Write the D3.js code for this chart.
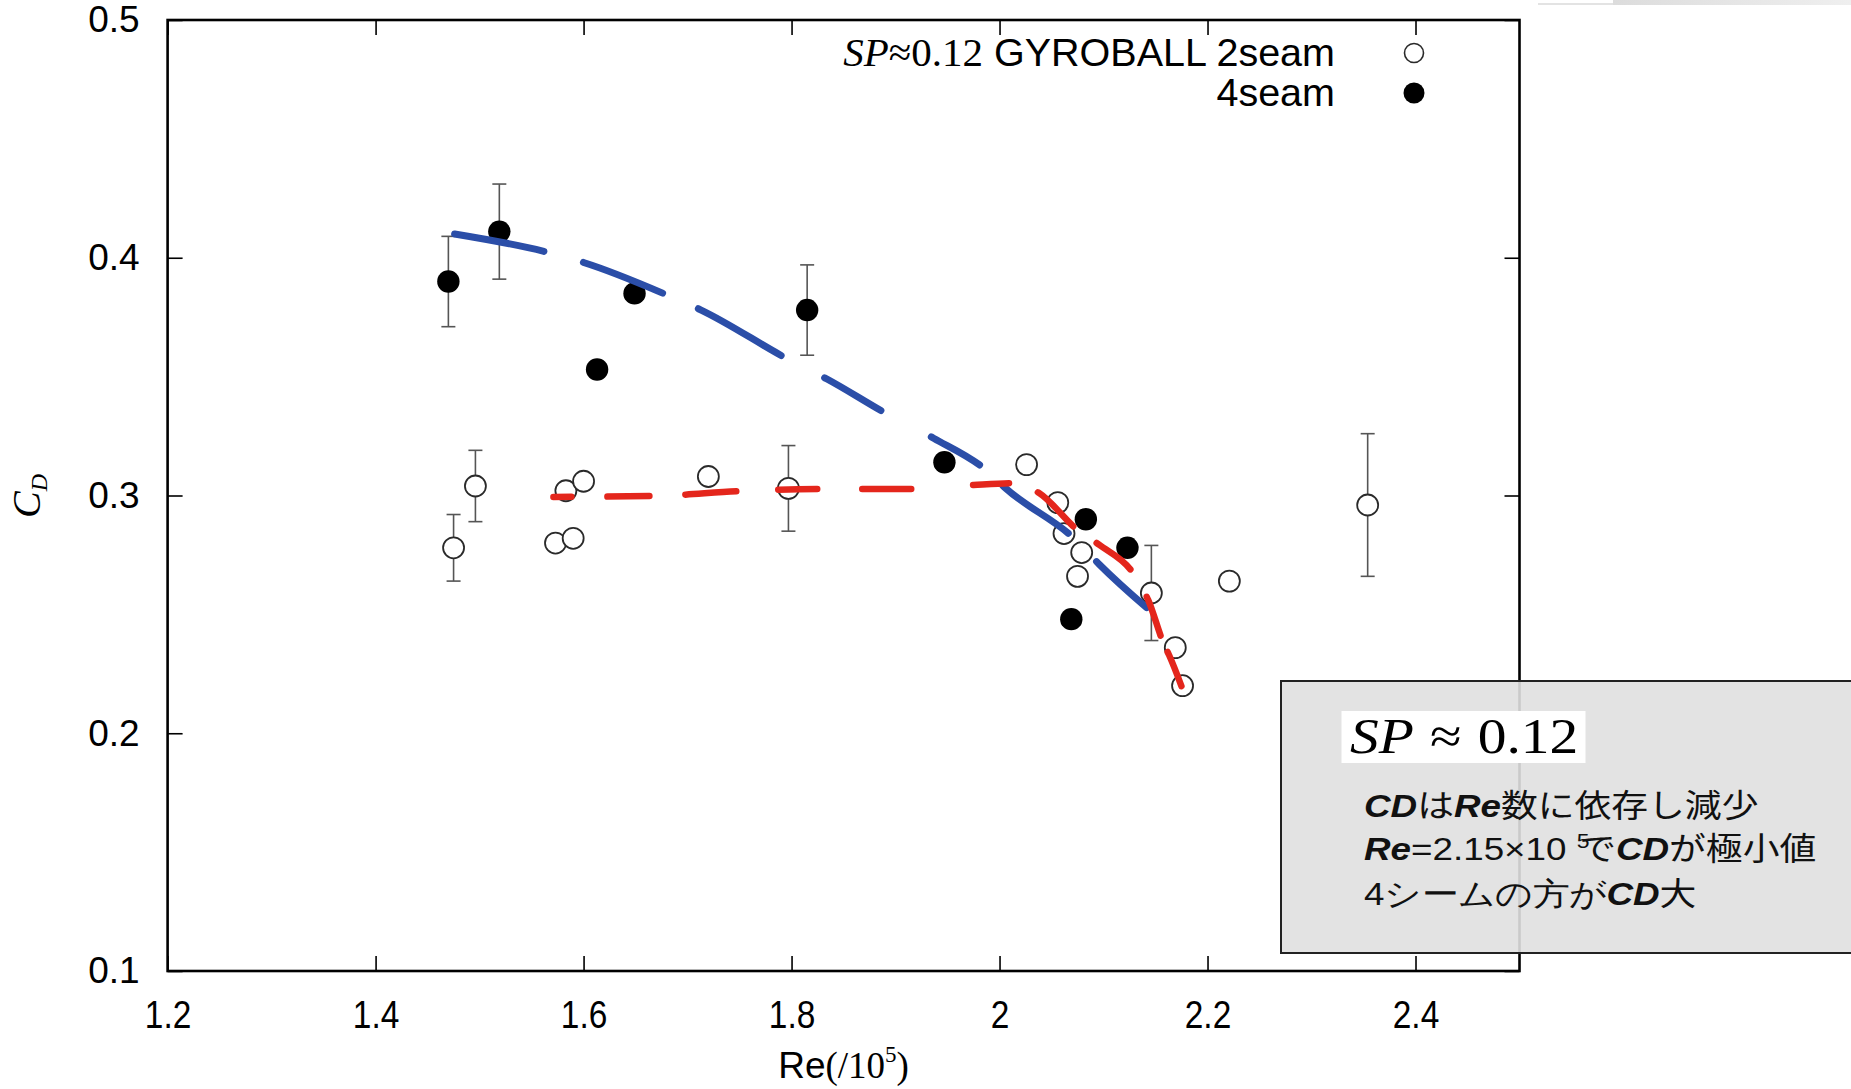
<!DOCTYPE html>
<html><head><meta charset="utf-8">
<script src="https://cdn.jsdelivr.net/npm/d3@7"></script>
<style>html,body{margin:0;padding:0;background:#fff;} svg{display:block;}</style>
</head><body>
<svg id="chart" width="1851" height="1089"></svg>
<script>
// Drag coefficient C_D versus Reynolds number for a gyroball at SP ≈ 0.12

const seriesNames = ["2seam", "4seam"];
const legendPrefixItalic = "SP";
const legendPrefix = "≈0.12";
const legendTitle = " GYROBALL ";

// 2-seam orientation (open circles); err = half-length of the error bar, 0 = none
const twoSeamRe  = [1.475, 1.496, 1.573, 1.590, 1.583, 1.600, 1.720, 1.797, 2.026, 2.056, 2.062, 2.079, 2.075, 2.146, 2.169, 2.176, 2.221, 2.354];
const twoSeamCd  = [0.278, 0.304, 0.280, 0.282, 0.302, 0.306, 0.308, 0.303, 0.313, 0.297, 0.284, 0.276, 0.266, 0.259, 0.236, 0.220, 0.264, 0.296];
const twoSeamErr = [0.014, 0.015, 0, 0, 0, 0, 0, 0.018, 0, 0, 0, 0, 0, 0.020, 0, 0, 0, 0.030];

// 4-seam orientation (filled circles)
const fourSeamRe  = [1.470, 1.519, 1.649, 1.613, 1.815, 1.947, 2.083, 2.123, 2.069];
const fourSeamCd  = [0.390, 0.411, 0.385, 0.353, 0.378, 0.314, 0.290, 0.278, 0.248];
const fourSeamErr = [0.019, 0.020, 0, 0, 0.019, 0, 0, 0, 0];

// hand-drawn trend curves
const fourSeamFitRe = [1.476, 1.568, 1.600, 1.682, 1.713, 1.798, 1.834, 1.893, 1.937, 1.989, 2.006, 2.074, 2.096, 2.149];
const fourSeamFitCd = [0.410, 0.402, 0.398, 0.384, 0.378, 0.357, 0.349, 0.334, 0.324, 0.310, 0.303, 0.281, 0.271, 0.250];
const twoSeamFitRe  = [1.571, 1.669, 1.753, 1.831, 1.921, 1.975, 2.016, 2.038, 2.076, 2.096, 2.131, 2.143, 2.158, 2.163, 2.178];
const twoSeamFitCd  = [0.2994, 0.2998, 0.3019, 0.3027, 0.3027, 0.3044, 0.3052, 0.3010, 0.2851, 0.2792, 0.2657, 0.2560, 0.2375, 0.2329, 0.2161];

// axes
const xTicks = [1.2, 1.4, 1.6, 1.8, 2.0, 2.2, 2.4];
const xTickLabels = ["1.2", "1.4", "1.6", "1.8", "2", "2.2", "2.4"];
const yTicks = [0.1, 0.2, 0.3, 0.4, 0.5];
const yTickLabels = ["0.1", "0.2", "0.3", "0.4", "0.5"];

// note box: each line is a list of [text, kind]
const noteTitle = ["SP", "≈", "0.12"];
const noteLines = [
  [["CD", "b"], ["は", "n"], ["Re", "b"], ["数に依存し減少", "n"]],
  [["Re", "b"], ["=2.15×10 ", "n"], ["5", "sup"], ["で", "back"], ["CD", "b"], ["が極小値", "n"]],
  [["4シームの方が", "n"], ["CD", "b"], ["大", "n"]]
];

const SANS = "'Liberation Sans', Arial, Helvetica, sans-serif";
const SERIF = "'Liberation Serif', 'Times New Roman', serif";
const CJK = "'Noto Sans CJK JP', 'Liberation Sans', sans-serif";

const svg = d3.select("#chart");
svg.append("rect").attr("width", 1851).attr("height", 1089).attr("fill", "#fff");

// thin slide strip at the top-right edge
svg.append("line").attr("x1", 1538).attr("x2", 1613).attr("y1", 4).attr("y2", 4)
  .attr("stroke", "#dadada").attr("stroke-width", 1.5);
const stripGrad = svg.append("defs").append("linearGradient").attr("id", "strip");
stripGrad.append("stop").attr("offset", "0").attr("stop-color", "#dcdcdc");
stripGrad.append("stop").attr("offset", "1").attr("stop-color", "#efefef");
svg.append("rect").attr("x", 1613).attr("y", 0).attr("width", 238).attr("height", 5).attr("fill", "url(#strip)");

const x = d3.scaleLinear().domain([1.2, 2.5]).range([167.6, 1519.5]);
const y = d3.scaleLinear().domain([0.1, 0.5]).range([971, 20]);
const tickLen = 15;

function styleAxis(g) {
  g.select(".domain").remove();
  g.selectAll(".tick line").attr("stroke", "#000").attr("stroke-width", 1.6);
}

// bottom axis with labels
const gxb = svg.append("g").attr("transform", `translate(0,${y(0.1)})`)
  .call(d3.axisBottom(x).tickValues(xTicks).tickFormat((d, i) => xTickLabels[i]).tickSize(-tickLen).tickPadding(30));
styleAxis(gxb);
gxb.selectAll(".tick text").attr("font-family", SANS).attr("font-size", 38).attr("fill", "#000")
  .attr("transform", "scale(0.88,1)");

// top axis, ticks only
const gxt = svg.append("g").attr("transform", `translate(0,${y(0.5)})`)
  .call(d3.axisTop(x).tickValues(xTicks).tickFormat("").tickSize(-tickLen));
styleAxis(gxt);

// left axis with labels
const gyl = svg.append("g").attr("transform", `translate(${x(1.2)},0)`)
  .call(d3.axisLeft(y).tickValues(yTicks).tickFormat((d, i) => yTickLabels[i]).tickSize(-tickLen).tickPadding(28));
styleAxis(gyl);
gyl.selectAll(".tick text").attr("font-family", SANS).attr("font-size", 37).attr("fill", "#000");

// right axis, ticks only
const gyr = svg.append("g").attr("transform", `translate(${x(2.5)},0)`)
  .call(d3.axisRight(y).tickValues(yTicks).tickFormat("").tickSize(-tickLen));
styleAxis(gyr);

// plot frame
svg.append("rect")
  .attr("x", x(1.2)).attr("y", y(0.5))
  .attr("width", x(2.5) - x(1.2)).attr("height", y(0.1) - y(0.5))
  .attr("fill", "none").attr("stroke", "#000").attr("stroke-width", 2.6);

// axis titles
const xTitle = svg.append("text").attr("x", (x(1.2) + x(2.5)) / 2).attr("y", 1078)
  .attr("text-anchor", "middle").attr("font-size", 37).attr("fill", "#000");
xTitle.append("tspan").attr("font-family", SANS).text("Re");
xTitle.append("tspan").attr("font-family", SERIF).text("(/10");
xTitle.append("tspan").attr("font-family", SERIF).attr("font-size", 23).attr("dy", -16).text("5");
xTitle.append("tspan").attr("font-family", SERIF).attr("dy", 16).text(")");

const yTitle = svg.append("text").attr("transform", "translate(40,496) rotate(-90)")
  .attr("text-anchor", "middle").attr("font-family", SERIF).attr("font-style", "italic").attr("fill", "#000");
yTitle.append("tspan").attr("font-size", 40).text("C");
yTitle.append("tspan").attr("font-size", 24).attr("dy", 7).text("D");

// data
const twoSeam = twoSeamRe.map((r, i) => ({ re: r, cd: twoSeamCd[i], err: twoSeamErr[i] }));
const fourSeam = fourSeamRe.map((r, i) => ({ re: r, cd: fourSeamCd[i], err: fourSeamErr[i] }));
const capHalf = 7;

function errorBars(data, color) {
  const g = svg.append("g").attr("stroke", color).attr("stroke-width", 1.6).attr("fill", "none");
  data.filter(d => d.err > 0).forEach(d => {
    const cx = x(d.re), t = y(d.cd + d.err), b = y(d.cd - d.err);
    g.append("line").attr("x1", cx).attr("x2", cx).attr("y1", t).attr("y2", b);
    g.append("line").attr("x1", cx - capHalf).attr("x2", cx + capHalf).attr("y1", t).attr("y2", t);
    g.append("line").attr("x1", cx - capHalf).attr("x2", cx + capHalf).attr("y1", b).attr("y2", b);
  });
}
errorBars(twoSeam, "#555");
errorBars(fourSeam, "#555");

svg.append("g").selectAll("circle").data(twoSeam).join("circle")
  .attr("cx", d => x(d.re)).attr("cy", d => y(d.cd)).attr("r", 10.5)
  .attr("fill", "#fff").attr("stroke", "#2a2a2a").attr("stroke-width", 1.8);
svg.append("g").selectAll("circle").data(fourSeam).join("circle")
  .attr("cx", d => x(d.re)).attr("cy", d => y(d.cd)).attr("r", 11.2)
  .attr("fill", "#000");

// trend curves, drawn over the markers
const curve = d3.line().x(d => x(d[0])).y(d => y(d[1])).curve(d3.curveMonotoneX);
svg.append("path")
  .attr("d", curve(fourSeamFitRe.map((r, i) => [r, fourSeamFitCd[i]])))
  .attr("fill", "none").attr("stroke", "#2b4ea8").attr("stroke-width", 7)
  .attr("stroke-linecap", "round")
  .attr("stroke-dasharray", "91 41 85 39 95 49 65 57 56 31 81 40 68 300");
svg.append("path")
  .attr("d", curve(twoSeamFitRe.map((r, i) => [r, twoSeamFitCd[i]])))
  .attr("fill", "none").attr("stroke", "#e4261c").attr("stroke-width", 6.5)
  .attr("stroke-linecap", "round")
  .attr("stroke-dasharray", "18 36 42 36 51 42 39 45 49 62 36 31 49 29 43 32 41 18 37 300");

// legend
const legX = 1335, legMarkX = 1414;
[[66, 53], [106, 93]].forEach(([base, my], i) => {
  const t = svg.append("text").attr("x", legX).attr("y", base).attr("text-anchor", "end")
    .attr("font-size", 39.5).attr("fill", "#000");
  if (i === 0) {
    t.append("tspan").attr("font-family", SERIF).attr("font-size", 41).attr("font-style", "italic").text(legendPrefixItalic);
    t.append("tspan").attr("font-family", SERIF).attr("font-size", 41).text(legendPrefix);
    t.append("tspan").attr("font-family", SANS).text(legendTitle.trimEnd() + " " + seriesNames[0]);
  } else {
    t.append("tspan").attr("font-family", SANS).text(seriesNames[1]);
  }
  svg.append("circle").attr("cx", legMarkX).attr("cy", my).attr("r", i === 0 ? 9.5 : 10.5)
    .attr("fill", i === 0 ? "#fff" : "#000").attr("stroke", i === 0 ? "#2a2a2a" : "none").attr("stroke-width", 1.6);
});

// note box
svg.append("rect").attr("x", 1281).attr("y", 681).attr("width", 620).attr("height", 272)
  .attr("fill", "#e0e0e0").attr("fill-opacity", 0.9).attr("stroke", "#222").attr("stroke-width", 2);
svg.append("rect").attr("x", 1341.5).attr("y", 711).attr("width", 244).attr("height", 52).attr("fill", "#fff");
const mt = svg.append("text").attr("transform", "translate(1350,753) scale(1.15,1)")
  .attr("font-family", SERIF).attr("font-size", 50).attr("fill", "#000");
mt.append("tspan").attr("font-style", "italic").text(noteTitle[0]);
mt.append("tspan").attr("dx", 14).text(noteTitle[1]);
mt.append("tspan").attr("dx", 14).text(noteTitle[2]);

const noteG = svg.append("g").attr("transform", "translate(1364,817) scale(1.15,1)");
noteLines.forEach((parts, li) => {
  const t = noteG.append("text").attr("x", 0).attr("y", [0, 43, 88][li])
    .attr("font-family", CJK).attr("font-size", 32).attr("fill", "#111");
  parts.forEach(([txt, kind]) => {
    const s = t.append("tspan").text(txt);
    if (kind === "b") s.attr("font-family", SANS).attr("font-weight", "bold").attr("font-style", "italic");
    else if (kind === "sup") s.attr("font-family", SANS).attr("font-size", 20).attr("dy", -12);
    else if (kind === "back") s.attr("dy", 12).attr("dx", -9);
    else if (/^[0-9=.×\s]/.test(txt)) s.attr("font-family", SANS);
  });
});
</script>
</body></html>
